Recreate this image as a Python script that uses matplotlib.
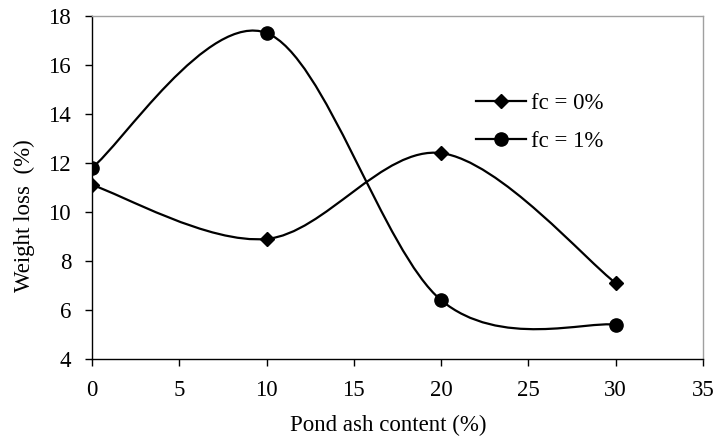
"""
Weight loss vs pond ash content, smoothed Excel-style lines.
"""

import matplotlib
matplotlib.use("Agg")
import matplotlib.pyplot as plt
from matplotlib.path import Path
from matplotlib.patches import PathPatch
from matplotlib.lines import Line2D

# ---------------------------------------------------------------------
# Data
# ---------------------------------------------------------------------

POND_ASH = [0, 10, 20, 30]
LOSS_FC0 = [11.1, 8.9, 12.4, 7.1]
LOSS_FC1 = [11.8, 17.3, 6.4, 5.4]
LABELS = ["fc = 0%", "fc = 1%"]

X_TICKS = [0, 5, 10, 15, 20, 25, 30, 35]
Y_TICKS = [4, 6, 8, 10, 12, 14, 16, 18]


def smooth_path(xs, ys):
    # Bezier segments like the spreadsheet "smoothed line" option
    pts = list(zip(xs, ys))
    n = len(pts)
    verts = [pts[0]]
    codes = [Path.MOVETO]
    for i in range(n - 1):
        p0 = pts[max(i - 1, 0)]
        p1 = pts[i]
        p2 = pts[i + 1]
        p3 = pts[min(i + 2, n - 1)]
        c1 = (p1[0] + (p2[0] - p0[0]) / 6, p1[1] + (p2[1] - p0[1]) / 6)
        c2 = (p2[0] - (p3[0] - p1[0]) / 6, p2[1] - (p3[1] - p1[1]) / 6)
        verts += [c1, c2, p2]
        codes += [Path.CURVE4] * 3
    return Path(verts, codes)


# ---------------------------------------------------------------------
# Plot
# ---------------------------------------------------------------------

plt.rcParams["font.family"] = ["Liberation Serif", "DejaVu Serif"]
plt.rcParams["font.size"] = 16.5

fig = plt.figure(figsize=(7.13, 4.40), dpi=100)
ax = fig.add_axes([0.129, 0.184, 0.857, 0.78])

series = [(LOSS_FC0, "D", 7), (LOSS_FC1, "o", 9.5)]
for ys, marker, ms in series:
    ax.add_patch(PathPatch(smooth_path(POND_ASH, ys), facecolor="none",
                           edgecolor="black", lw=1.6, zorder=2))
    ax.plot(POND_ASH, ys, linestyle="none", marker=marker, ms=ms,
            color="black", zorder=3)

ax.set_xlim(0, 35)
ax.set_ylim(4, 18)
ax.set_xticks(X_TICKS)
ax.set_yticks(Y_TICKS)
ax.tick_params(direction="out", length=5, width=1, labelsize=16.5)
ax.tick_params(axis="x", pad=10)
ax.tick_params(axis="y", pad=10)

for side in ["top", "right"]:
    ax.spines[side].set_color("#a0a0a0")
    ax.spines[side].set_linewidth(1)
for side in ["left", "bottom"]:
    ax.spines[side].set_linewidth(1)

ax.set_xlabel("Pond ash content (%)", fontsize=16.5)
ax.set_ylabel("Weight loss  (%)", fontsize=16.5)
ax.xaxis.set_label_coords(0.485, -0.163)
ax.yaxis.set_label_coords(-0.11, 0.417)
ax.xaxis.label.set_va("top")
ax.yaxis.label.set_va("center")

handles = [
    Line2D([], [], color="black", lw=1.6, marker="D", ms=7),
    Line2D([], [], color="black", lw=1.6, marker="o", ms=9.5),
]
ax.legend(handles, LABELS, loc="center left", bbox_to_anchor=(0.628, 0.69),
          frameon=False, fontsize=16.5, handlelength=2.2, handletextpad=0.2,
          labelspacing=0.75, borderpad=0, borderaxespad=0)

fig.savefig("out.png", dpi=100)
